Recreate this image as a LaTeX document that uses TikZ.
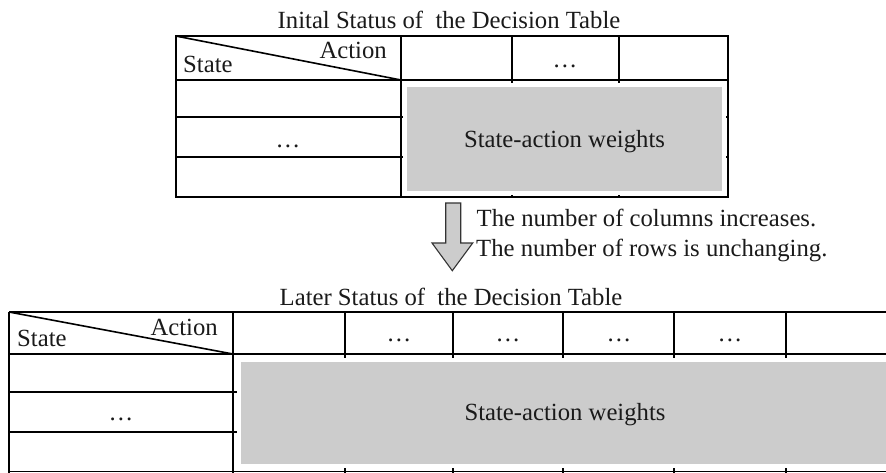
\documentclass[tikz,border=0pt]{standalone}
\usepackage{fontspec}
\setmainfont{Liberation Serif}
\definecolor{cellgray}{HTML}{CCCCCC}
\definecolor{arrowline}{HTML}{333333}
\definecolor{ink}{HTML}{1A1A1A}
\tikzset{
  gridline/.style={line width=1.6pt, black},
  weights/.style={fill=cellgray, draw=white, line width=3.5pt},
  txt/.style={inner sep=0pt, text=ink, font=\fontsize{24.7}{29}\selectfont},
  downarrow/.style={fill=cellgray, draw=arrowline, line width=1.1pt, line join=miter},
}
\begin{document}
\begin{tikzpicture}[x=1pt,y=-1pt]
\useasboundingbox (0,0) rectangle (886,472);

% ---------- initial table ----------
\node[txt, anchor=base] (title1) at (449,28) {Inital Status of~ the Decision Table};
\draw[gridline] (175.7,36) rectangle (728,197);
\foreach \y in {80,117,157} \draw[gridline] (175.7,\y) -- (728,\y);
\foreach \x in {401,512,619} \draw[gridline] (\x,36) -- (\x,197);
\draw[gridline] (175.7,36) -- (401,80);
\path[weights] (405,85) rectangle (724,193);
\node[txt, anchor=base west] (st1) at (183,72) {State};
\node[txt, anchor=base east] (ac1) at (387,58.5) {Action};
\node[txt, anchor=base] (hd1) at (565,67) {\ldots};
\node[txt, anchor=base] (rw1) at (288,147) {\ldots};
\node[txt, anchor=base] (wt1) at (564.5,147) {State-action weights};

% ---------- transition arrow ----------
\path[downarrow] (445.7,203) -- (460.7,203) -- (460.7,243) -- (472.7,243)
  -- (452.3,270.7) -- (432,243) -- (445.7,243) -- cycle;
\node[txt, anchor=base west] (note1) at (476.5,226.7) {The number of columns increases.};
\node[txt, anchor=base west] (note2) at (476,256.7) {The number of rows is unchanging.};

% ---------- later table ----------
\node[txt, anchor=base] (title2) at (451,305) {Later Status of~ the Decision Table};
\begin{scope}
  \clip (0,0) rectangle (886,472);
  \foreach \y in {312,354,392,432,471.6} \draw[gridline] (9,\y) -- (905,\y);
  \draw[gridline] (9,312) -- (9,475);
  \foreach \x in {233,345,453,563,674,786} \draw[gridline] (\x,312) -- (\x,475);
  \draw[gridline] (9,312) -- (233,354);
  \path[weights] (239,360) rectangle (910,466);
\end{scope}
\node[txt, anchor=base west] (st2) at (17,346.7) {State};
\node[txt, anchor=base east] (ac2) at (218,335) {Action};
\foreach \x/\n in {399/a,508/b,619/c,730/d}
  \node[txt, anchor=base] (hd2\n) at (\x,341.7) {\ldots};
\node[txt, anchor=base] (rw2) at (121,420) {\ldots};
\node[txt, anchor=base] (wt2) at (565,420) {State-action weights};
\end{tikzpicture}
\end{document}
